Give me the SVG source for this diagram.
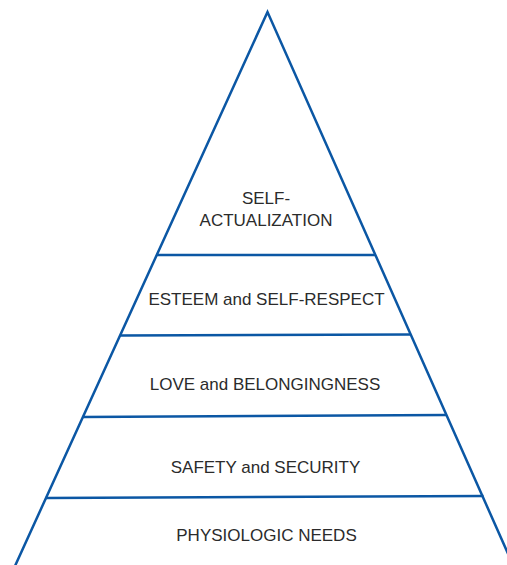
<svg xmlns="http://www.w3.org/2000/svg" width="507" height="565" viewBox="0 0 507 565">
<style>
.ln{stroke:#0b57a4;stroke-width:2.5;fill:none;stroke-linejoin:miter}
.t{font-family:"Liberation Sans",Arial,sans-serif;font-size:17px;fill:#2b2b2b;text-anchor:middle}
</style>
<rect width="507" height="565" fill="#ffffff"/>
<g id="connectors">
<path class="ln" d="M15,566 L267.5,12 L513.5,566"/>
<line class="ln" x1="156.5" y1="255" x2="375" y2="255"/>
<line class="ln" x1="120" y1="335.5" x2="411" y2="334.5"/>
<line class="ln" x1="82.5" y1="417" x2="447" y2="415"/>
<line class="ln" x1="45.5" y1="498" x2="483.5" y2="496"/>
</g>
<g id="self-actualization">
<text class="t" x="266" y="204">SELF-</text>
<text class="t" x="266" y="226">ACTUALIZATION</text>
</g>
<g id="esteem">
<text class="t" x="266.5" y="305">ESTEEM and SELF-RESPECT</text>
</g>
<g id="love">
<text class="t" x="265" y="390">LOVE and BELONGINGNESS</text>
</g>
<g id="safety">
<text class="t" x="265.5" y="473">SAFETY and SECURITY</text>
</g>
<g id="physiologic">
<text class="t" x="266.5" y="541">PHYSIOLOGIC NEEDS</text>
</g>
</svg>
